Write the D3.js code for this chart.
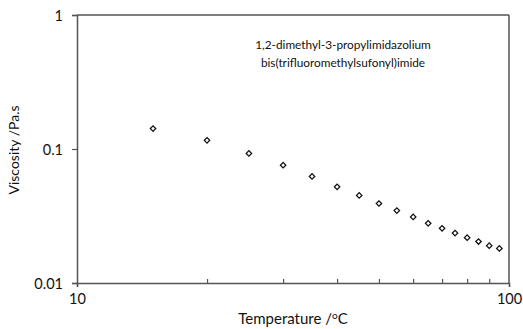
<!DOCTYPE html>
<html><head><meta charset="utf-8">
<script src="https://cdn.jsdelivr.net/npm/d3@7"></script>
<style>body{margin:0;background:#fff}svg{display:block}text{font-family:Lato,"Open Sans",sans-serif;fill:#111}</style>
</head><body>
<svg id="c" width="523" height="329"></svg>
<script>
const temperatures = [15,20,25,30,35,40,45,50,55,60,65,70,75,80,85,90,95];
const viscosity = [0.142,0.116,0.0926,0.0757,0.0624,0.0522,0.0450,0.0392,0.0347,0.0311,0.0279,0.0256,0.0236,0.0218,0.0204,0.0190,0.0181];
const xMajorTicks = [10,100];
const xMinorTicks = [20,30,40,50,60,70,80,90];
const yTicks = [0.01,0.1,1];
const yTickLabels = ["0.01","0.1","1"];
const xTickLabels = ["10","100"];

const svg = d3.select("#c");
const L=77, R=509, T=15, B=283;
const x = d3.scaleLog().domain([10,100]).range([L,R]);
const y = d3.scaleLog().domain([0.01,1]).range([B,T]);
const axisColor = "#555";
const ff = "Lato,'Open Sans',sans-serif";

svg.append("line").attr("x1",L).attr("x2",R).attr("y1",T).attr("y2",T).attr("stroke",axisColor).attr("stroke-width",1.5);
svg.append("line").attr("x1",R).attr("x2",R).attr("y1",T).attr("y2",B).attr("stroke",axisColor).attr("stroke-width",1.5);

const ya = svg.append("g").attr("transform",`translate(${L},0)`)
  .call(d3.axisLeft(y).tickValues(yTicks).tickSize(5).tickFormat((d,i)=>yTickLabels[i]));
ya.select(".domain").attr("stroke",axisColor).attr("stroke-width",1.5);
ya.selectAll(".tick line").attr("stroke",axisColor).attr("stroke-width",1.2);
ya.selectAll(".tick text").attr("font-size",14.5).attr("x",-14).attr("dy","0.35em").style("font-family",ff).attr("fill","#111");

const xa = svg.append("g").attr("transform",`translate(0,${B})`)
  .call(d3.axisBottom(x).tickValues(xMajorTicks).tickSize(4).tickFormat((d,i)=>xTickLabels[i]));
xa.select(".domain").attr("stroke",axisColor).attr("stroke-width",1.5);
xa.selectAll(".tick line").attr("stroke",axisColor).attr("stroke-width",1.2);
xa.selectAll(".tick text").attr("font-size",14.5).attr("y",11).attr("dy","0.71em").style("font-family",ff).attr("fill","#111");
const xm = svg.append("g").attr("transform",`translate(0,${B})`)
  .call(d3.axisBottom(x).tickValues(xMinorTicks).tickSize(-4).tickFormat(""));
xm.select(".domain").remove();
xm.selectAll(".tick line").attr("stroke",axisColor).attr("stroke-width",1.2);

const sym = d3.symbol().type(d3.symbolSquare).size(15);
svg.append("g").selectAll("path").data(temperatures).join("path")
  .attr("d",sym)
  .attr("transform",(d,i)=>`translate(${x(d)},${y(viscosity[i])}) rotate(45)`)
  .attr("fill","#fff").attr("stroke","#111").attr("stroke-width",1.25);

const ann = svg.append("text").attr("x",343).attr("text-anchor","middle").attr("font-size",11.8);
ann.append("tspan").attr("x",343).attr("y",49).text("1,2-dimethyl-3-propylimidazolium");
ann.append("tspan").attr("x",343).attr("y",67).text("bis(trifluoromethylsufonyl)imide");

const xt = svg.append("text").attr("x",293).attr("y",324).attr("text-anchor","middle").attr("font-size",15);
xt.append("tspan").text("Temperature /");
xt.append("tspan").attr("dy",-5).attr("font-size",10).text("o");
xt.append("tspan").attr("dy",5).text("C");

svg.append("text").attr("transform","translate(19,150) rotate(-90)").attr("text-anchor","middle").attr("font-size",14).text("Viscosity /Pa.s");
</script>
</body></html>
